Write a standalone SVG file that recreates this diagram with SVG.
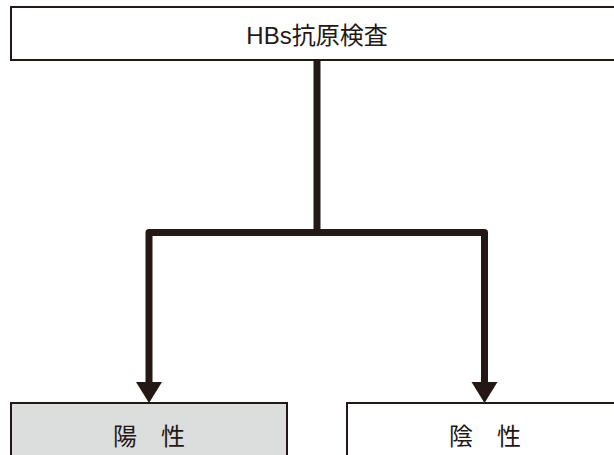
<svg xmlns="http://www.w3.org/2000/svg" width="614" height="455" viewBox="0 0 614 455">
<style>
.box{stroke:#231815;stroke-width:2}
.lbl{font-family:"Liberation Sans","Noto Sans CJK JP",sans-serif;font-size:24px;fill:#231815;text-anchor:middle;dominant-baseline:central}
.conn{fill:none;stroke:#231815;stroke-width:7;stroke-linejoin:round}
.head{fill:#231815}
</style>
<rect width="614" height="455" fill="#ffffff"/>
<g id="node-test">
<rect class="box" x="11" y="7" width="620" height="53" fill="#ffffff"/>
<text class="lbl" x="317" y="35">HBs抗原検査</text>
</g>
<g id="connectors">
<path class="conn" d="M317 60 V232.5"/>
<path class="conn" d="M149 384 V232.5 H484.5 V384"/>
<polygon class="head" points="136,382 162,382 149,403"/>
<polygon class="head" points="471.5,382 497.5,382 484.5,403"/>
</g>
<g id="node-positive">
<rect class="box" x="11" y="403" width="276" height="70" fill="#dcdddd" stroke-width="1.5"/>
<text class="lbl" x="149" y="436">陽　性</text>
</g>
<g id="node-negative">
<rect class="box" x="347" y="403" width="300" height="70" fill="#ffffff" stroke-width="1.5"/>
<text class="lbl" x="485" y="436">陰　性</text>
</g>
</svg>
